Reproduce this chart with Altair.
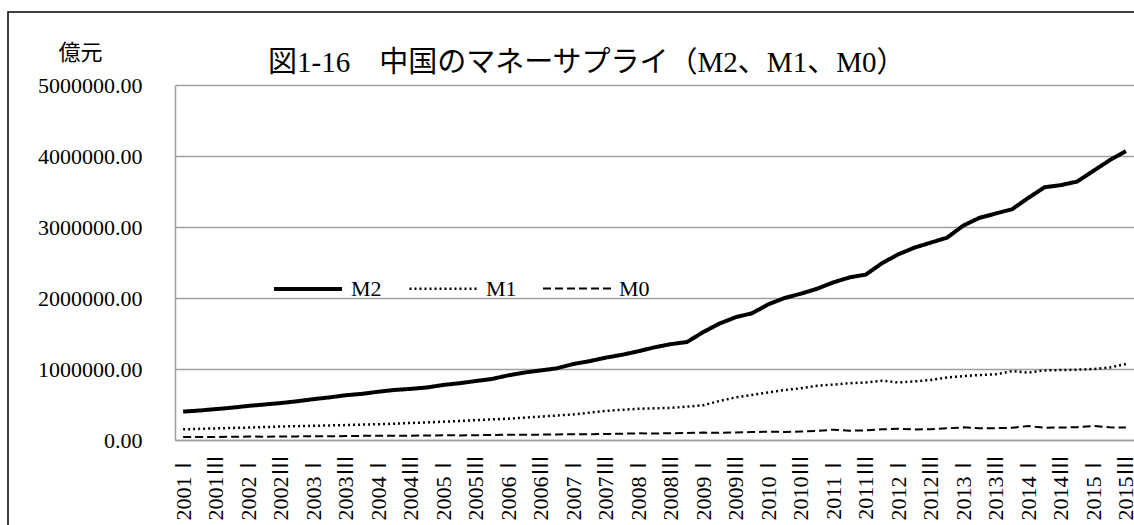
import altair as alt
import pandas as pd

# Quarterly categories, 2001 Q1 .. 2015 Q3
years = [str(y) for y in range(2001, 2016)]
quarter_marks = ["Ⅰ", "Ⅱ", "Ⅲ", "Ⅳ"]
quarters = [y + q for y in years for q in quarter_marks][:59]
label_quarters = [q for q in quarters if q.endswith(("Ⅰ", "Ⅲ"))]

# Money supply, 億元
m2 = [400000, 415000, 435000, 455000, 480000, 500000, 520000, 545000, 575000, 600000,
      630000, 650000, 680000, 705000, 720000, 740000, 775000, 800000, 830000, 860000,
      910000, 950000, 980000, 1010000, 1070000, 1110000, 1160000, 1200000, 1250000, 1305000,
      1350000, 1380000, 1520000, 1640000, 1730000, 1785000, 1910000, 2000000, 2060000, 2130000,
      2220000, 2290000, 2330000, 2490000, 2615000, 2710000, 2780000, 2850000, 3020000, 3130000,
      3190000, 3250000, 3410000, 3560000, 3590000, 3640000, 3790000, 3940000, 4070000]
m1 = [150000, 157000, 163000, 170000, 175000, 182000, 190000, 195000, 200000, 205000,
      210000, 217000, 222000, 230000, 240000, 248000, 258000, 268000, 280000, 290000,
      300000, 315000, 330000, 345000, 360000, 385000, 410000, 425000, 440000, 446000,
      452000, 470000, 490000, 550000, 600000, 634000, 670000, 704000, 728000, 765000,
      780000, 800000, 810000, 835000, 810000, 826000, 845000, 880000, 900000, 915000,
      925000, 970000, 950000, 980000, 985000, 990000, 1000000, 1020000, 1070000]
m0 = [42000, 42000, 43000, 45000, 48000, 47000, 49000, 51000, 54000, 53000,
      55000, 58000, 61000, 59000, 61000, 64000, 66000, 65000, 68000, 71000,
      74000, 73000, 76000, 79000, 82000, 81000, 84000, 89000, 94000, 92000,
      95000, 100000, 104000, 101000, 106000, 112000, 117000, 114000, 120000, 127000,
      146000, 131000, 136000, 150000, 158000, 148000, 152000, 164000, 178000, 164000,
      167000, 172000, 197000, 174000, 175000, 180000, 197000, 178000, 176000]
series_names = ["M2", "M1", "M0"]
y_ticks = [0, 1000000, 2000000, 3000000, 4000000, 5000000]

rows = []
for name, vals in zip(series_names, [m2, m1, m0]):
    for q, v in zip(quarters, vals):
        rows.append({"quarter": q, "series": name, "value": v})
df = pd.DataFrame(rows)

SERIF = "Liberation Serif, Noto Sans CJK JP"
GRID = "#a0a0a0"


def series_legend():
    return alt.Legend(
        title=None, orient="none", legendX=97, legendY=168, direction="horizontal",
        symbolType="stroke", symbolSize=4624, symbolStrokeColor="black",
        labelFont=SERIF, labelFontSize=22, labelColor="black", labelOffset=7,
        columnPadding=22,
    )


lines = alt.Chart(df).mark_line(color="black", strokeJoin="round").encode(
    x=alt.X(
        "quarter:O",
        sort=quarters,
        scale=alt.Scale(type="point", padding=0.5),
        axis=alt.Axis(
            values=label_quarters, labelAngle=-90, title=None, ticks=False, grid=False,
            labelPadding=14, labelOverlap=False, domainColor=GRID, domainWidth=1.5,
            labelFont=SERIF, labelFontSize=22, labelColor="black",
        ),
    ),
    y=alt.Y(
        "value:Q",
        scale=alt.Scale(domain=[0, 5000000]),
        axis=alt.Axis(
            values=y_ticks, labelExpr="format(datum.value, '.2f')",
            title="億元", titleAngle=0, titleX=-95, titleY=-26, titleAlign="center",
            titleBaseline="alphabetic", titleFont="Noto Sans CJK JP", titleFontSize=22,
            titleFontWeight="normal", titleColor="black",
            ticks=False, labelPadding=33, labelFont=SERIF, labelFontSize=22,
            labelColor="black", domainColor=GRID, domainWidth=1.5,
            gridColor=GRID, gridWidth=1.5,
        ),
    ),
    strokeDash=alt.StrokeDash(
        "series:N",
        scale=alt.Scale(domain=series_names, range=[[1, 0], [2, 3], [8, 4]]),
        legend=series_legend(),
    ),
    strokeWidth=alt.StrokeWidth(
        "series:N",
        scale=alt.Scale(type="ordinal", domain=series_names, range=[4, 2.5, 2]),
        legend=series_legend(),
    ),
)

# Outer chart frame
frame = alt.Chart(pd.DataFrame({"frame": [0]})).mark_rect(
    fill="transparent", stroke="black", strokeWidth=1.5
).encode(
    x=alt.value(-167), x2=alt.value(3000), y=alt.value(-73), y2=alt.value(3000)
)

chart = alt.layer(frame, lines).properties(
    width=959,
    height=355,
    autosize=alt.AutoSizeParams(type="none"),
    padding={"left": 175, "top": 85, "right": 0, "bottom": 85},
    title=alt.TitleParams(
        text="図1-16　中国のマネーサプライ（M2、M1、M0）",
        anchor="start", frame="group", dx=93, dy=90, offset=0,
        font=SERIF, fontSize=29, fontWeight="normal", color="black",
        baseline="alphabetic",
    ),
).configure_view(strokeWidth=0).configure(background="white")

chart.save("out.html", embed_options={"renderer": "svg", "actions": False})
